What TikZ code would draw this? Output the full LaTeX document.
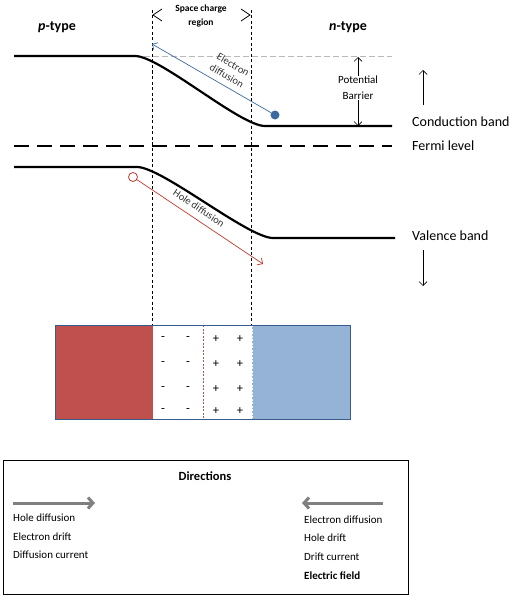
\documentclass[tikz,border=0pt]{standalone}
\usepackage{fontspec}
\setmainfont{Carlito}
\usetikzlibrary{positioning}
\usetikzlibrary{arrows.meta}

\definecolor{pred}{HTML}{C0504D}
\definecolor{nblue}{HTML}{95B3D7}
\definecolor{boxline}{HTML}{385D8A}
\definecolor{elblue}{HTML}{3C6AA0}
\definecolor{hored}{HTML}{C0392B}

\begin{document}
\begin{tikzpicture}[x=1pt,y=-1pt,
	band/.style={line width=2.2pt},
	regionline/.style={line width=0.7pt, dash pattern=on 3pt off 2.5pt},
	barb/.style={-{Straight Barb[length=4pt,width=8pt]}},
	biglbl/.style={font=\fontsize{14}{16}\selectfont, anchor=west, inner sep=0pt},
	smalllbl/.style={font=\fontsize{10.5}{12.5}\selectfont, inner sep=0pt},
	legendtxt/.style={font=\fontsize{11}{13}\selectfont, anchor=west, inner sep=0pt},
	charge/.style={font=\fontsize{12.5}{14}\selectfont, inner sep=0pt},
	legendarrow/.style={draw=gray, line width=3pt, -{Straight Barb[length=5pt,width=11pt]}}]
	\useasboundingbox (0,0) rectangle (520,602);
	% titles
	\node[font=\fontsize{14}{16}\selectfont\bfseries] (ptype) at (57,27) {\textit{p}-type};
	\node[font=\fontsize{14}{16}\selectfont\bfseries] (ntype) at (348,27) {\textit{n}-type};
	\node[font=\fontsize{9.5}{14}\selectfont\bfseries, align=center] (scr) at (201,16) {Space charge\\region};
	% edges of the space charge region
	\draw[regionline] (152,10) -- (152,325);
	\draw[regionline] (251,10) -- (251,325);
	\draw[line width=0.7pt] (162,9) -- (153,15) -- (162,21);
	\draw[line width=0.7pt] (241,9) -- (250,15) -- (241,21);
	% bands
	\draw[gray!55, line width=0.8pt, dash pattern=on 6pt off 3pt] (135,56) -- (392,56);
	\draw[band] (14,56) -- (135,56) .. controls (160,56) and (240,126) .. (265,126) -- (392,126);
	\draw[line width=1.8pt, dash pattern=on 15pt off 8pt] (14,146) -- (392,146);
	\draw[band] (14,167) -- (137,167) .. controls (162,167) and (248,238) .. (273,238) -- (395,238);
	\node[biglbl] (cb) at (412,122) {Conduction band};
	\node[biglbl] (fermi) at (412,146) {Fermi level};
	\node[biglbl] (vb) at (412,236) {Valence band};
	% potential barrier
	\node[smalllbl, align=center, font=\fontsize{11}{16}\selectfont] (barrier) at (358,88) {Potential\\Barrier};
	\coordinate (bartop) at (358,57);
	\coordinate (barbot) at (358,126);
	\draw[barb, line width=0.6pt] (barrier.north) -- (bartop);
	\draw[barb, line width=0.6pt] (barrier.south) -- (barbot);
	% energy arrows
	\coordinate (upfrom) at (423,105);
	\coordinate (upto) at (423,70);
	\coordinate (downfrom) at (423,250);
	\coordinate (downto) at (423,286);
	\draw[barb, line width=0.7pt] (upfrom) -- (upto);
	\draw[barb, line width=0.7pt] (downfrom) -- (downto);
	% carriers
	\node[circle, fill=elblue, minimum size=9pt, inner sep=0pt] (edot) at (275,115) {};
	\coordinate (etip) at (152,44);
	\draw[barb, elblue, line width=0.7pt] (edot) -- (etip);
	\node[smalllbl, align=center, rotate=-30, text=black!80] (elbl) at (230,70) {Electron\\diffusion};
	\node[circle, draw=hored, fill=white, line width=0.8pt, minimum size=9pt, inner sep=0pt] (hdot) at (133,177) {};
	\coordinate (htip) at (263,264);
	\draw[barb, hored, line width=0.7pt] (hdot) -- (htip);
	\node[smalllbl, rotate=-34, text=black!80] (hlbl) at (199,208) {Hole diffusion};
	% junction
	\fill[pred] (55,325) rectangle (153,419);
	\fill[nblue] (252,325) rectangle (350,419);
	\draw[hored!50!gray, line width=0.6pt, dash pattern=on 2pt off 1.5pt] (203,325) -- (203,419);
	\draw[white, line width=0.6pt, dash pattern=on 2pt off 1.5pt] (252.5,325) -- (252.5,419);
	\draw[boxline, line width=0.9pt] (55,325) rectangle (350,419);
	\foreach \y in {339,364,389,411} {
		\node[charge] at (163,\y) {-};
		\node[charge] at (188,\y) {-};
		\node[charge] at (216,\y) {+};
		\node[charge] at (240,\y) {+};
	}
	% directions
	\draw[line width=0.8pt] (3,460) rectangle (408,594);
	\node[font=\fontsize{12.5}{14}\selectfont\bfseries] (dirs) at (205,476) {Directions};
	\coordinate (rfrom) at (13,503);
	\coordinate (rto) at (95,503);
	\coordinate (lfrom) at (383,503);
	\coordinate (lto) at (302,503);
	\draw[legendarrow] (rfrom) -- (rto);
	\draw[legendarrow] (lfrom) -- (lto);
	\node[legendtxt] (hd) at (13,518) {Hole diffusion};
	\node[legendtxt] (edr) at (13,537) {Electron drift};
	\node[legendtxt] (dc) at (13,555) {Diffusion current};
	\node[legendtxt] (ed) at (304,520) {Electron diffusion};
	\node[legendtxt] (hdr) at (304,538) {Hole drift};
	\node[legendtxt] (drc) at (304,557) {Drift current};
	\node[legendtxt, font=\fontsize{11}{13}\selectfont\bfseries] (ef) at (304,576) {Electric field};
\end{tikzpicture}
\end{document}
